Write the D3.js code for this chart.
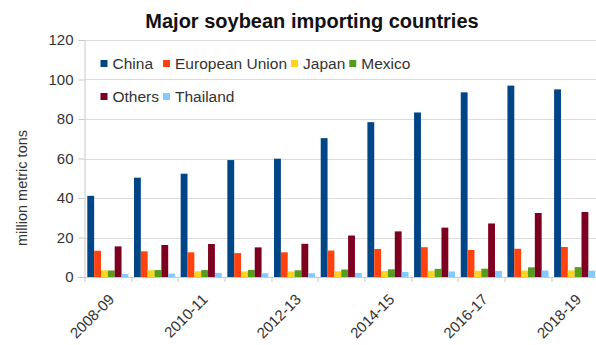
<!DOCTYPE html>
<html>
<head>
<meta charset="utf-8">
<script src="https://cdn.jsdelivr.net/npm/d3@7"></script>
<style>
  body { margin: 0; background: #fff; }
  text { font-family: "Liberation Sans", Arial, sans-serif; }
</style>
</head>
<body>
<div id="chart"></div>
<script>
// data (million metric tons)
const seasons = ["2008-09", "2009-10", "2010-11", "2011-12", "2012-13", "2013-14",
                 "2014-15", "2015-16", "2016-17", "2017-18", "2018-19"];
const seriesNames = ["China", "European Union", "Japan", "Mexico", "Others", "Thailand"];
const china    = [41.1, 50.3, 52.3, 59.2, 59.9, 70.3, 78.4, 83.3, 93.5, 96.9, 95.0];
const eu       = [13.3, 13.0, 12.5, 12.1, 12.5, 13.4, 14.2, 15.1, 13.7, 14.3, 15.2];
const japan    = [3.4, 3.4, 2.9, 2.8, 2.8, 2.9, 3.0, 3.2, 3.2, 3.3, 3.3];
const mexico   = [3.3, 3.5, 3.5, 3.6, 3.4, 3.8, 3.9, 4.1, 4.2, 4.9, 5.0];
const others   = [15.5, 16.2, 16.7, 15.0, 16.8, 21.0, 23.1, 25.0, 27.1, 32.4, 32.9];
const thailand = [1.5, 1.7, 2.1, 1.9, 1.9, 2.0, 2.6, 2.8, 3.1, 3.3, 3.2];
const yTicks = [0, 20, 40, 60, 80, 100, 120];
const colors = ["#004586", "#ff420e", "#ffd320", "#579d1c", "#7e0021", "#83caff"];

const allSeries = [china, eu, japan, mexico, others, thailand];

const W = 596, H = 345;
const margin = { top: 40, right: -2, bottom: 68, left: 84.5 };
const width = W - margin.left - margin.right,
    height = H - margin.top - margin.bottom;

const svg = d3.select("#chart").append("svg")
    .attr("width", W)
    .attr("height", H);

// title
svg.append("text")
    .attr("x", 312)
    .attr("y", 28)
    .attr("text-anchor", "middle")
    .style("font-size", "20px")
    .style("font-weight", "bold")
    .attr("fill", "#111")
    .text("Major soybean importing countries");

const g = svg.append("g")
    .attr("transform", "translate(" + margin.left + "," + margin.top + ")");

// scales
const x = d3.scaleBand().domain(seasons).range([0, width]).padding(0);
const xInner = d3.scaleBand().domain(seriesNames)
    .range([x.bandwidth() * 0.06, x.bandwidth() * 0.94]);
const y = d3.scaleLinear().domain([0, 120]).range([height, 0]);

// gridlines
g.append("g")
    .selectAll("line")
    .data(yTicks)
    .join("line")
    .attr("x1", 0)
    .attr("x2", width)
    .attr("y1", d => Math.round(y(d)) + 0.5)
    .attr("y2", d => Math.round(y(d)) + 0.5)
    .attr("stroke", "#dcdcdc")
    .attr("stroke-width", 1);

// y axis
const yAxis = g.append("g")
    .call(d3.axisLeft(y).tickValues(yTicks).tickSize(6).tickPadding(5));
yAxis.select(".domain").attr("stroke", "#c8c8c8");
yAxis.selectAll(".tick line").attr("stroke", "#c8c8c8");
yAxis.selectAll(".tick text")
    .style("font-size", "15px")
    .attr("fill", "#333")
    .style("font-family", "'Liberation Sans', Arial, sans-serif");

// x axis line and ticks at category boundaries
const boundaries = seasons.map(s => x(s)).concat([width]);
g.append("line")
    .attr("x1", 0).attr("x2", width)
    .attr("y1", height + 0.5).attr("y2", height + 0.5)
    .attr("stroke", "#c8c8c8");
g.append("g")
    .selectAll("line")
    .data(boundaries)
    .join("line")
    .attr("x1", d => Math.round(d) + 0.5)
    .attr("x2", d => Math.round(d) + 0.5)
    .attr("y1", height)
    .attr("y2", height + 5)
    .attr("stroke", "#c8c8c8");

// x labels, every other season
g.append("g")
    .selectAll("text")
    .data(seasons.filter((d, i) => i % 2 === 0))
    .join("text")
    .attr("transform", d => "translate(" + (x(d) + x.bandwidth() / 2) + "," + (height + 16) + ") rotate(-45)")
    .attr("text-anchor", "end")
    .attr("dy", "0.7em")
    .style("font-size", "15px")
    .attr("fill", "#333")
    .text(d => d);

// y axis title
svg.append("text")
    .attr("transform", "translate(27,188) rotate(-90)")
    .attr("text-anchor", "middle")
    .style("font-size", "14.5px")
    .attr("fill", "#333")
    .text("million metric tons");

// bars
const groups = g.append("g")
    .selectAll("g")
    .data(seasons)
    .join("g")
    .attr("transform", d => "translate(" + x(d) + ",0)");

groups.selectAll("rect")
    .data((d, i) => seriesNames.map((name, k) => ({ name: name, value: allSeries[k][i], k: k })))
    .join("rect")
    .attr("x", d => xInner(d.name))
    .attr("width", xInner.bandwidth())
    .attr("y", d => y(d.value))
    .attr("height", d => height - y(d.value))
    .attr("fill", d => colors[d.k]);

// legend: two rows, column widths shared
const legendRows = [[0, 1, 2, 3], [4, 5]];
const legend = svg.append("g");
const rowY = [63.5, 96.5];
const measure = svg.append("text").style("font-size", "15.5px");
const textW = seriesNames.map(n => { measure.text(n); return measure.node().getComputedTextLength(); });
measure.remove();
const colX = [100.5];
for (let c = 1; c < 4; c++) {
    let w = 0;
    legendRows.forEach(r => { if (r[c - 1] !== undefined) w = Math.max(w, textW[r[c - 1]]); });
    colX.push(colX[c - 1] + 12 + w + 4);
}
legendRows.forEach((r, ri) => {
    r.forEach((k, c) => {
        legend.append("rect")
            .attr("x", colX[c])
            .attr("y", rowY[ri] - 3.5)
            .attr("width", 7)
            .attr("height", 7)
            .attr("fill", colors[k]);
        legend.append("text")
            .attr("x", colX[c] + 12)
            .attr("y", rowY[ri])
            .attr("dy", "0.35em")
            .style("font-size", "15.5px")
            .attr("fill", "#333")
            .text(seriesNames[k]);
    });
});
</script>
</body>
</html>
